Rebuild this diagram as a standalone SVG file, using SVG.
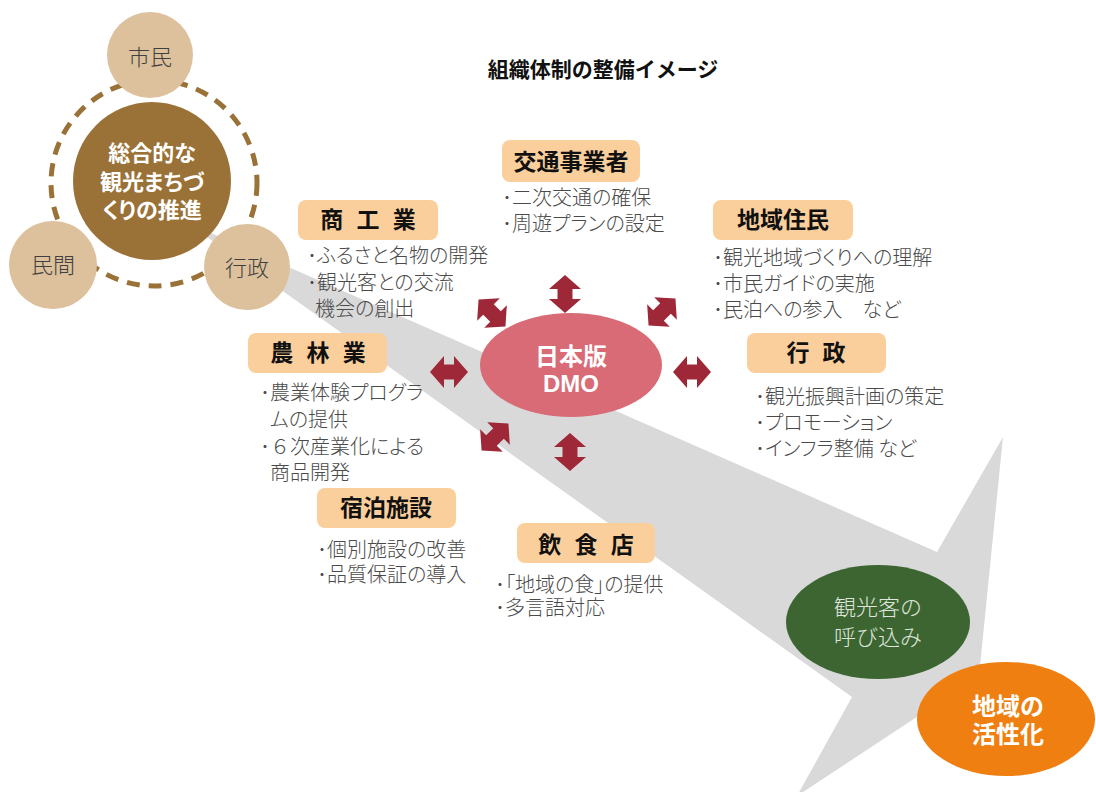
<svg xmlns="http://www.w3.org/2000/svg" width="1096" height="792" viewBox="0 0 1096 792">
<style>
text{font-family:"Noto Sans CJK JP","Noto Sans CJK SC",sans-serif}
.b{font-size:20px;fill:#4a4a4a;font-weight:300;font-feature-settings:"palt"}
.l{font-size:23px;font-weight:700;fill:#111;text-anchor:middle}
.box{fill:#fbcf9c}
.sc{fill:#dcc19c}
.st{font-size:22px;fill:#404040;text-anchor:middle;font-weight:300}
.w{fill:#fff;font-weight:700;text-anchor:middle}
.arr{fill:#9e2838}
</style>
<defs>
<path id="da" d="M-19,0 L-5,-16 L-5,-7.5 L5,-7.5 L5,-16 L19,0 L5,16 L5,7.5 L-5,7.5 L-5,16 Z"/>
</defs>
<rect width="1096" height="792" fill="#fff"/>
<polygon id="band" points="186,222 937,552 1003,437 979,676 797,796 852,697" fill="#d9d9d9"/>
<text x="603" y="77" style="font-size:21px;font-weight:700;fill:#111;text-anchor:middle">組織体制の整備イメージ</text>

<g id="promo">
<circle cx="154" cy="183" r="103" fill="none" stroke="#9a7238" stroke-width="5" stroke-dasharray="13 9"/>
<circle cx="152" cy="181" r="79" fill="#9a7238"/>
<text class="w" style="font-size:22px;font-feature-settings:'palt'"><tspan x="152" y="161">総合的な</tspan><tspan x="152" y="190">観光まちづ</tspan><tspan x="152" y="218">くりの推進</tspan></text>
</g>
<g id="shimin"><circle class="sc" cx="150" cy="55" r="43"/><text class="st" x="150" y="65">市民</text></g>
<g id="minkan"><circle class="sc" cx="53" cy="265" r="44"/><text class="st" x="53" y="273">民間</text></g>
<g id="gyosei-c"><circle class="sc" cx="247" cy="267" r="43"/><text class="st" x="247" y="276">行政</text></g>

<g id="kotsu">
<rect class="box" x="502" y="140" width="138" height="42" rx="8"/>
<text class="l" x="571" y="170">交通事業者</text>
<text class="b" x="502" y="205">･二次交通の確保</text>
<text class="b" x="502" y="231">･周遊プランの設定</text>
</g>
<g id="shoko">
<rect class="box" x="298" y="200" width="140" height="40" rx="8"/>
<text class="l" x="370" y="228" style="letter-spacing:4px">商 工 業</text>
<text class="b" x="307" y="263">･ふるさと名物の開発</text>
<text class="b" x="307" y="290">･観光客との交流</text>
<text class="b" x="315" y="316">機会の創出</text>
</g>
<g id="jumin">
<rect class="box" x="713" y="200" width="140" height="40" rx="8"/>
<text class="l" x="783" y="228">地域住民</text>
<text class="b" x="713" y="265">･観光地域づくりへの理解</text>
<text class="b" x="713" y="291">･市民ガイドの実施</text>
<text class="b" x="713" y="317">･民泊への参入　など</text>
</g>
<g id="norin">
<rect class="box" x="248" y="333" width="139" height="40" rx="8"/>
<text class="l" x="320" y="361" style="letter-spacing:4px">農 林 業</text>
<text class="b" x="260" y="400">･農業体験プログラ</text>
<text class="b" x="270" y="427">ムの提供</text>
<text class="b" x="260" y="454">･<tspan style="font-feature-settings:normal">６</tspan>次産業化による</text>
<text class="b" x="270" y="480">商品開発</text>
</g>
<g id="gyosei">
<rect class="box" x="747" y="333" width="139" height="40" rx="8"/>
<text class="l" x="818" y="361" style="letter-spacing:4px">行 政</text>
<text class="b" x="755" y="404">･観光振興計画の策定</text>
<text class="b" x="755" y="430">･プロモーション</text>
<text class="b" x="755" y="456">･インフラ整備 など</text>
</g>
<g id="shukuhaku">
<rect class="box" x="317" y="488" width="139" height="40" rx="8"/>
<text class="l" x="386" y="516">宿泊施設</text>
<text class="b" x="317" y="557">･個別施設の改善</text>
<text class="b" x="317" y="582">･品質保証の導入</text>
</g>
<g id="inshoku">
<rect class="box" x="517" y="523" width="138" height="40" rx="8"/>
<text class="l" x="588" y="553" style="letter-spacing:4px">飲 食 店</text>
<text class="b" x="495" y="592">･「地域の食」の提供</text>
<text class="b" x="495" y="615">･多言語対応</text>
</g>

<g id="dmo">
<ellipse cx="571" cy="365" rx="91" ry="52" fill="#d96b77"/>
<text class="w" x="571" y="365" style="font-size:24px">日本版</text>
<text class="w" x="571" y="392" style="font-size:24px;font-family:'Liberation Sans',sans-serif">DMO</text>
</g>

<g id="connectors" class="arr">
<use href="#da" transform="translate(565,294) rotate(90)"/>
<use href="#da" transform="translate(570,452) rotate(90)"/>
<use href="#da" transform="translate(449,372)"/>
<use href="#da" transform="translate(692,372)"/>
<use href="#da" transform="translate(492,313) rotate(45)"/>
<use href="#da" transform="translate(662,312) rotate(-45)"/>
<use href="#da" transform="translate(495,437) rotate(-45)"/>
</g>

<g id="yobikomi">
<ellipse cx="878" cy="622" rx="92" ry="57" fill="#3d6532"/>
<text x="878" y="615" style="font-size:22px;fill:#dfe5dc;text-anchor:middle;font-weight:300">観光客の</text>
<text x="878" y="645" style="font-size:22px;fill:#dfe5dc;text-anchor:middle;font-weight:300">呼び込み</text>
</g>
<g id="kasseika">
<ellipse cx="1006" cy="719" rx="89" ry="57" fill="#ee7f10"/>
<text class="w" x="1008" y="715" style="font-size:24px">地域の</text>
<text class="w" x="1008" y="743" style="font-size:24px">活性化</text>
</g>
</svg>
